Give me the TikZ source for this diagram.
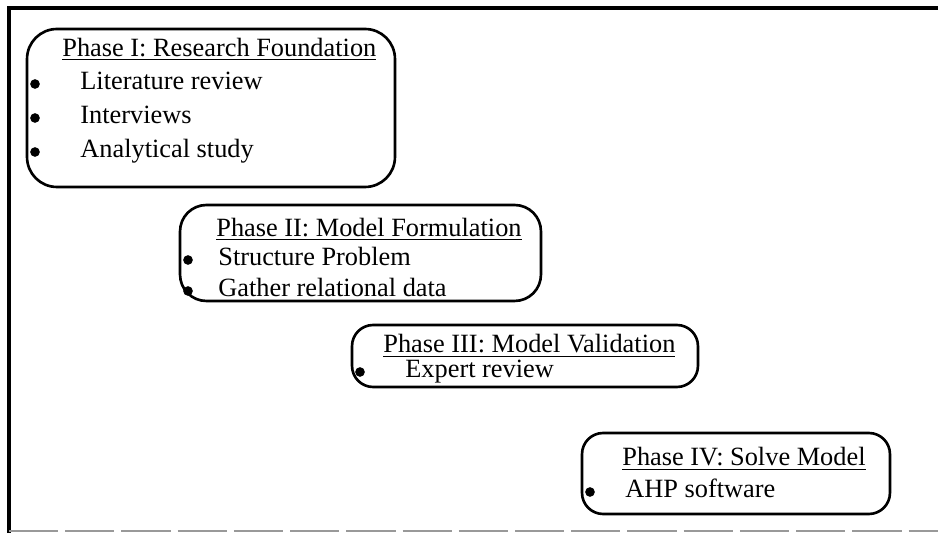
\documentclass[tikz,border=0pt]{standalone}
\usepackage{fontspec}
\setmainfont{Liberation Serif}
\usetikzlibrary{positioning}

\begin{document}
\begin{tikzpicture}[x=0.02cm, y=-0.02cm,
      phase/.style={draw, line width=1.5pt, rounded corners=12pt, inner sep=0pt},
      heading/.style={anchor=base west, inner sep=0pt, font=\fontsize{15}{18}\selectfont},
      item/.style={anchor=base west, inner sep=0pt, font=\fontsize{15}{18}\selectfont},
      dot/.style={circle, fill, inner sep=0pt, minimum size=5.5pt},
      frame/.style={line width=1.8pt}
    ]
    \useasboundingbox (0,0) rectangle (938,533);
    \draw[frame] (938,8) -- (9,8) -- (9,533);
    \draw[black!40, line width=1pt, dash pattern=on 28pt off 4pt] (9,531) -- (938,531);

    \node[phase, rounded corners=17pt, minimum width=7.36cm, minimum height=3.16cm] (research) at (211,108) {};
    \node[heading] (researchtitle) at (62,57) {\underline{Phase I: Research Foundation}};
    \node[item] (literature) at (80,90) {Literature review};
    \node[item] (interviews) at (80,124) {Interviews};
    \node[item] (analytical) at (80,158) {Analytical study};
    \node[dot] (b1) at (35,84) {};
    \node[dot] (b2) at (35,118) {};
    \node[dot] (b3) at (35,152) {};

    \node[phase, rounded corners=15pt, minimum width=7.22cm, minimum height=1.92cm] (formulation) at (360.5,253) {};
    \node[heading] (formulationtitle) at (216,237) {\underline{Phase II: Model Formulation}};
    \node[item] (structure) at (218,266) {Structure Problem};
    \node[item] (gather) at (218,297) {Gather relational data};
    \node[dot] (b4) at (188,260) {};
    \node[dot] (b5) at (188,291) {};

    \node[phase, minimum width=6.92cm, minimum height=1.24cm] (validation) at (525,356) {};
    \node[heading] (validationtitle) at (383,353) {\underline{Phase III: Model Validation}};
    \node[item] (expert) at (405,378) {Expert review};
    \node[dot] (b6) at (360,372) {};

    \node[phase, minimum width=6.16cm, minimum height=1.62cm] (solve) at (736,473.5) {};
    \node[heading] (solvetitle) at (622,466) {\underline{Phase IV: Solve Model}};
    \node[item] (ahp) at (625,498) {AHP software};
    \node[dot] (b7) at (590,492) {};
  \end{tikzpicture}
\end{document}
